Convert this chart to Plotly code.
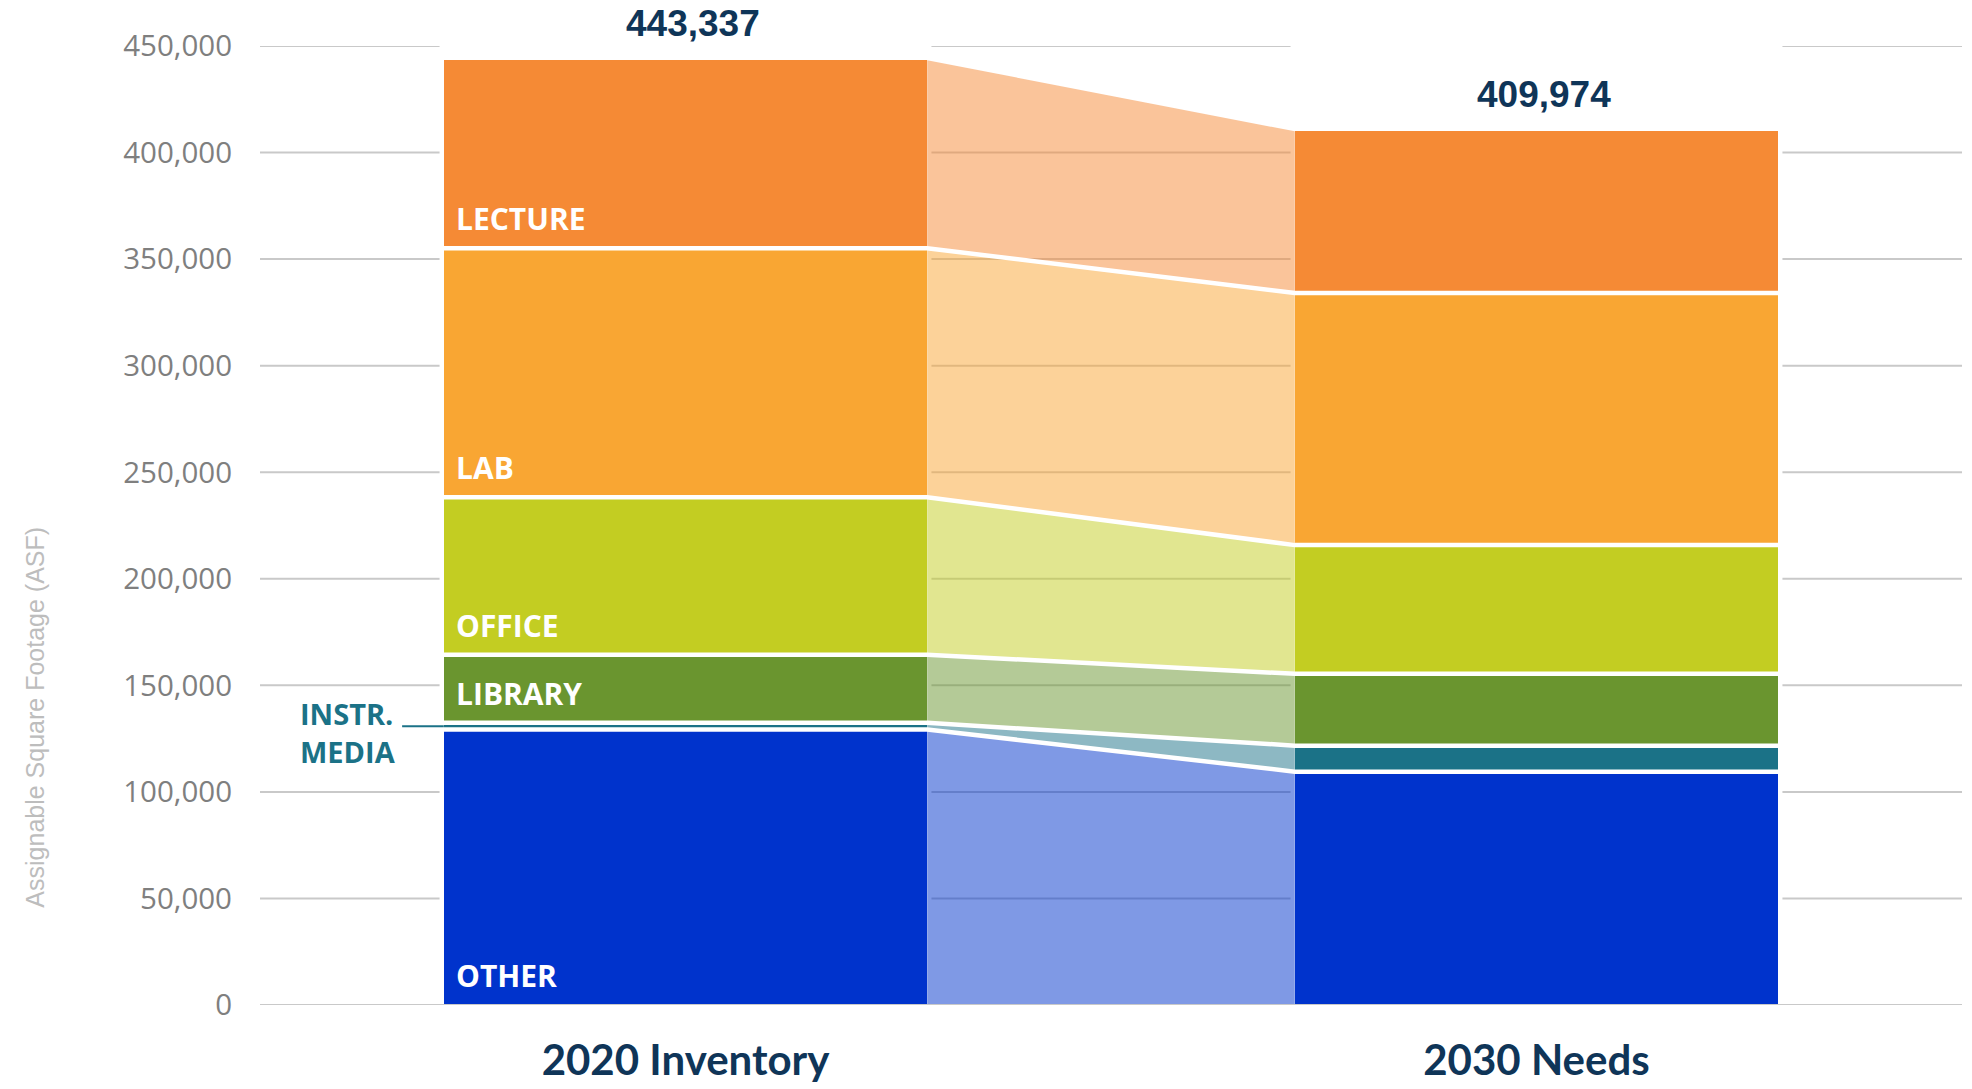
import plotly.graph_objects as go

# ---------------- data ----------------
periods = ["2020 Inventory", "2030 Needs"]
categories = ["Other", "Instr. Media", "Library", "Office", "Lab", "Lecture"]  # bottom -> top
seg_labels = ["OTHER", "", "LIBRARY", "OFFICE", "LAB", "LECTURE"]
values_2020 = [129300, 3100, 32000, 73900, 116800, 88237]
values_2030 = [109500, 12200, 33700, 60400, 118300, 75874]
y_ticks = [0, 50000, 100000, 150000, 200000, 250000, 300000, 350000, 400000, 450000]
y_title = "Assignable Square Footage (ASF)"
instr_label = ["INSTR.", "MEDIA"]

# ---------------- styles ----------------
colors = ["#0033CC", "#1B7287", "#6A952F", "#C3CD22", "#F9A633", "#F58A35"]
conn_alpha = 0.5
BW = 0.568          # bar width (x data units)
GRID = "#C9C9C9"
NAVY = "#0F3558"

def hex_rgba(h, a):
    h = h.lstrip("#")
    return f"rgba({int(h[0:2],16)},{int(h[2:4],16)},{int(h[4:6],16)},{a})"

def cum(vals):
    out, s = [0], 0
    for v in vals:
        s += v
        out.append(s)
    return out

c1 = cum(values_2020)
c2 = cum(values_2030)
xs = [0, 1]
b1l, b1r = xs[0] - BW / 2, xs[0] + BW / 2
b2l, b2r = xs[1] - BW / 2, xs[1] + BW / 2

fig = go.Figure()

# bars
for i, cat in enumerate(categories):
    fig.add_trace(go.Bar(
        x=xs, y=[values_2020[i], values_2030[i]], width=BW, name=cat,
        marker=dict(color=colors[i], line=dict(width=0)),
        hoverinfo="skip", showlegend=False))

# connectors
for i, cat in enumerate(categories):
    fig.add_trace(go.Scatter(
        x=[b1r, b2l, b2l, b1r, b1r], y=[c1[i], c2[i], c2[i + 1], c1[i + 1], c1[i]],
        mode="lines", fill="toself", fillcolor=hex_rgba(colors[i], conn_alpha),
        line=dict(width=0, color="rgba(0,0,0,0)"), hoverinfo="skip", showlegend=False))

# white separators through bars and connectors
for k in range(1, len(categories)):
    fig.add_trace(go.Scatter(
        x=[b1l, b1r, b2l, b2r], y=[c1[k], c1[k], c2[k], c2[k]],
        mode="lines", line=dict(color="white", width=4.5),
        hoverinfo="skip", showlegend=False))

shapes = []
eps = 0.005
for t in y_ticks:
    if t == 0:
        shapes.append(dict(type="line", xref="x", yref="y", x0=-0.5, x1=1.5, y0=t, y1=t,
                           line=dict(color=GRID, width=2), layer="above"))
    else:
        for (a, b) in [(-0.5, b1l - eps), (b1r + eps, b2l - eps), (b2r + eps, 1.5)]:
            shapes.append(dict(type="line", xref="x", yref="y", x0=a, x1=b, y0=t, y1=t,
                               line=dict(color=GRID, width=2), layer="below"))

# instr media leader line
instr_y = (c1[1] + c1[2]) / 2
shapes.append(dict(type="line", xref="x", yref="y", x0=b1l - 0.049, x1=b1l, y0=instr_y, y1=instr_y,
                   line=dict(color=colors[1], width=2), layer="above"))

annotations = []
# totals
for x, c in zip(xs, [c1, c2]):
    annotations.append(dict(x=x, y=c[-1], xref="x", yref="y", text=f"{c[-1]:,}",
                            showarrow=False, yanchor="bottom", yshift=15, xshift=7, borderpad=0,
                            font=dict(family="Liberation Sans Narrow, Liberation Sans, Arial", size=37,
                                      color=NAVY, weight="bold")))
# segment labels (2020 bar)
for i, lab in enumerate(seg_labels):
    if not lab:
        continue
    annotations.append(dict(x=b1l, y=c1[i], xref="x", yref="y", text=lab, showarrow=False,
                            xanchor="left", yanchor="bottom", xshift=10, yshift=7,
                            font=dict(family="Open Sans", size=30, color="white", weight="bold")))
# instr media (one two-line label)
annotations.append(dict(x=b1l, y=instr_y, xref="x", yref="y", text="<br>".join(instr_label),
                        showarrow=False, xanchor="left", yanchor="middle", align="left",
                        xshift=-145, yshift=-6, borderpad=0,
                        font=dict(family="Open Sans", size=29, color=colors[1], weight="bold")))
# y title
annotations.append(dict(x=-0.132, y=0.30, xref="paper", yref="paper", text=y_title, showarrow=False,
                        textangle=-90, xanchor="center", yanchor="middle",
                        font=dict(family="Liberation Sans, Arial", size=25, color="#BDBDBD")))

fig.update_layout(
    width=1972, height=1089, barmode="stack", bargap=0,
    plot_bgcolor="white", paper_bgcolor="white",
    margin=dict(l=260, r=10, t=46, b=84, autoexpand=False),
    shapes=shapes, annotations=annotations, showlegend=False,
    xaxis=dict(range=[-0.5, 1.5], tickvals=xs, ticktext=periods, showgrid=False, zeroline=False,
               showline=False, ticks="", ticklabelstandoff=27, automargin=False,
               tickfont=dict(family="Lato", size=42, color=NAVY, weight="bold")),
    yaxis=dict(range=[0, 450000], tickvals=y_ticks, ticktext=[f"{t:,}" for t in y_ticks],
               showgrid=False, zeroline=False, showline=False, ticks="", ticklabelstandoff=27,
               automargin=False,
               tickfont=dict(family="Open Sans", size=29.5, color="#7F7F7F")),
)

fig.write_html("out.html", config={"displayModeBar": False},
               post_script="document.body.style.margin='0';")
